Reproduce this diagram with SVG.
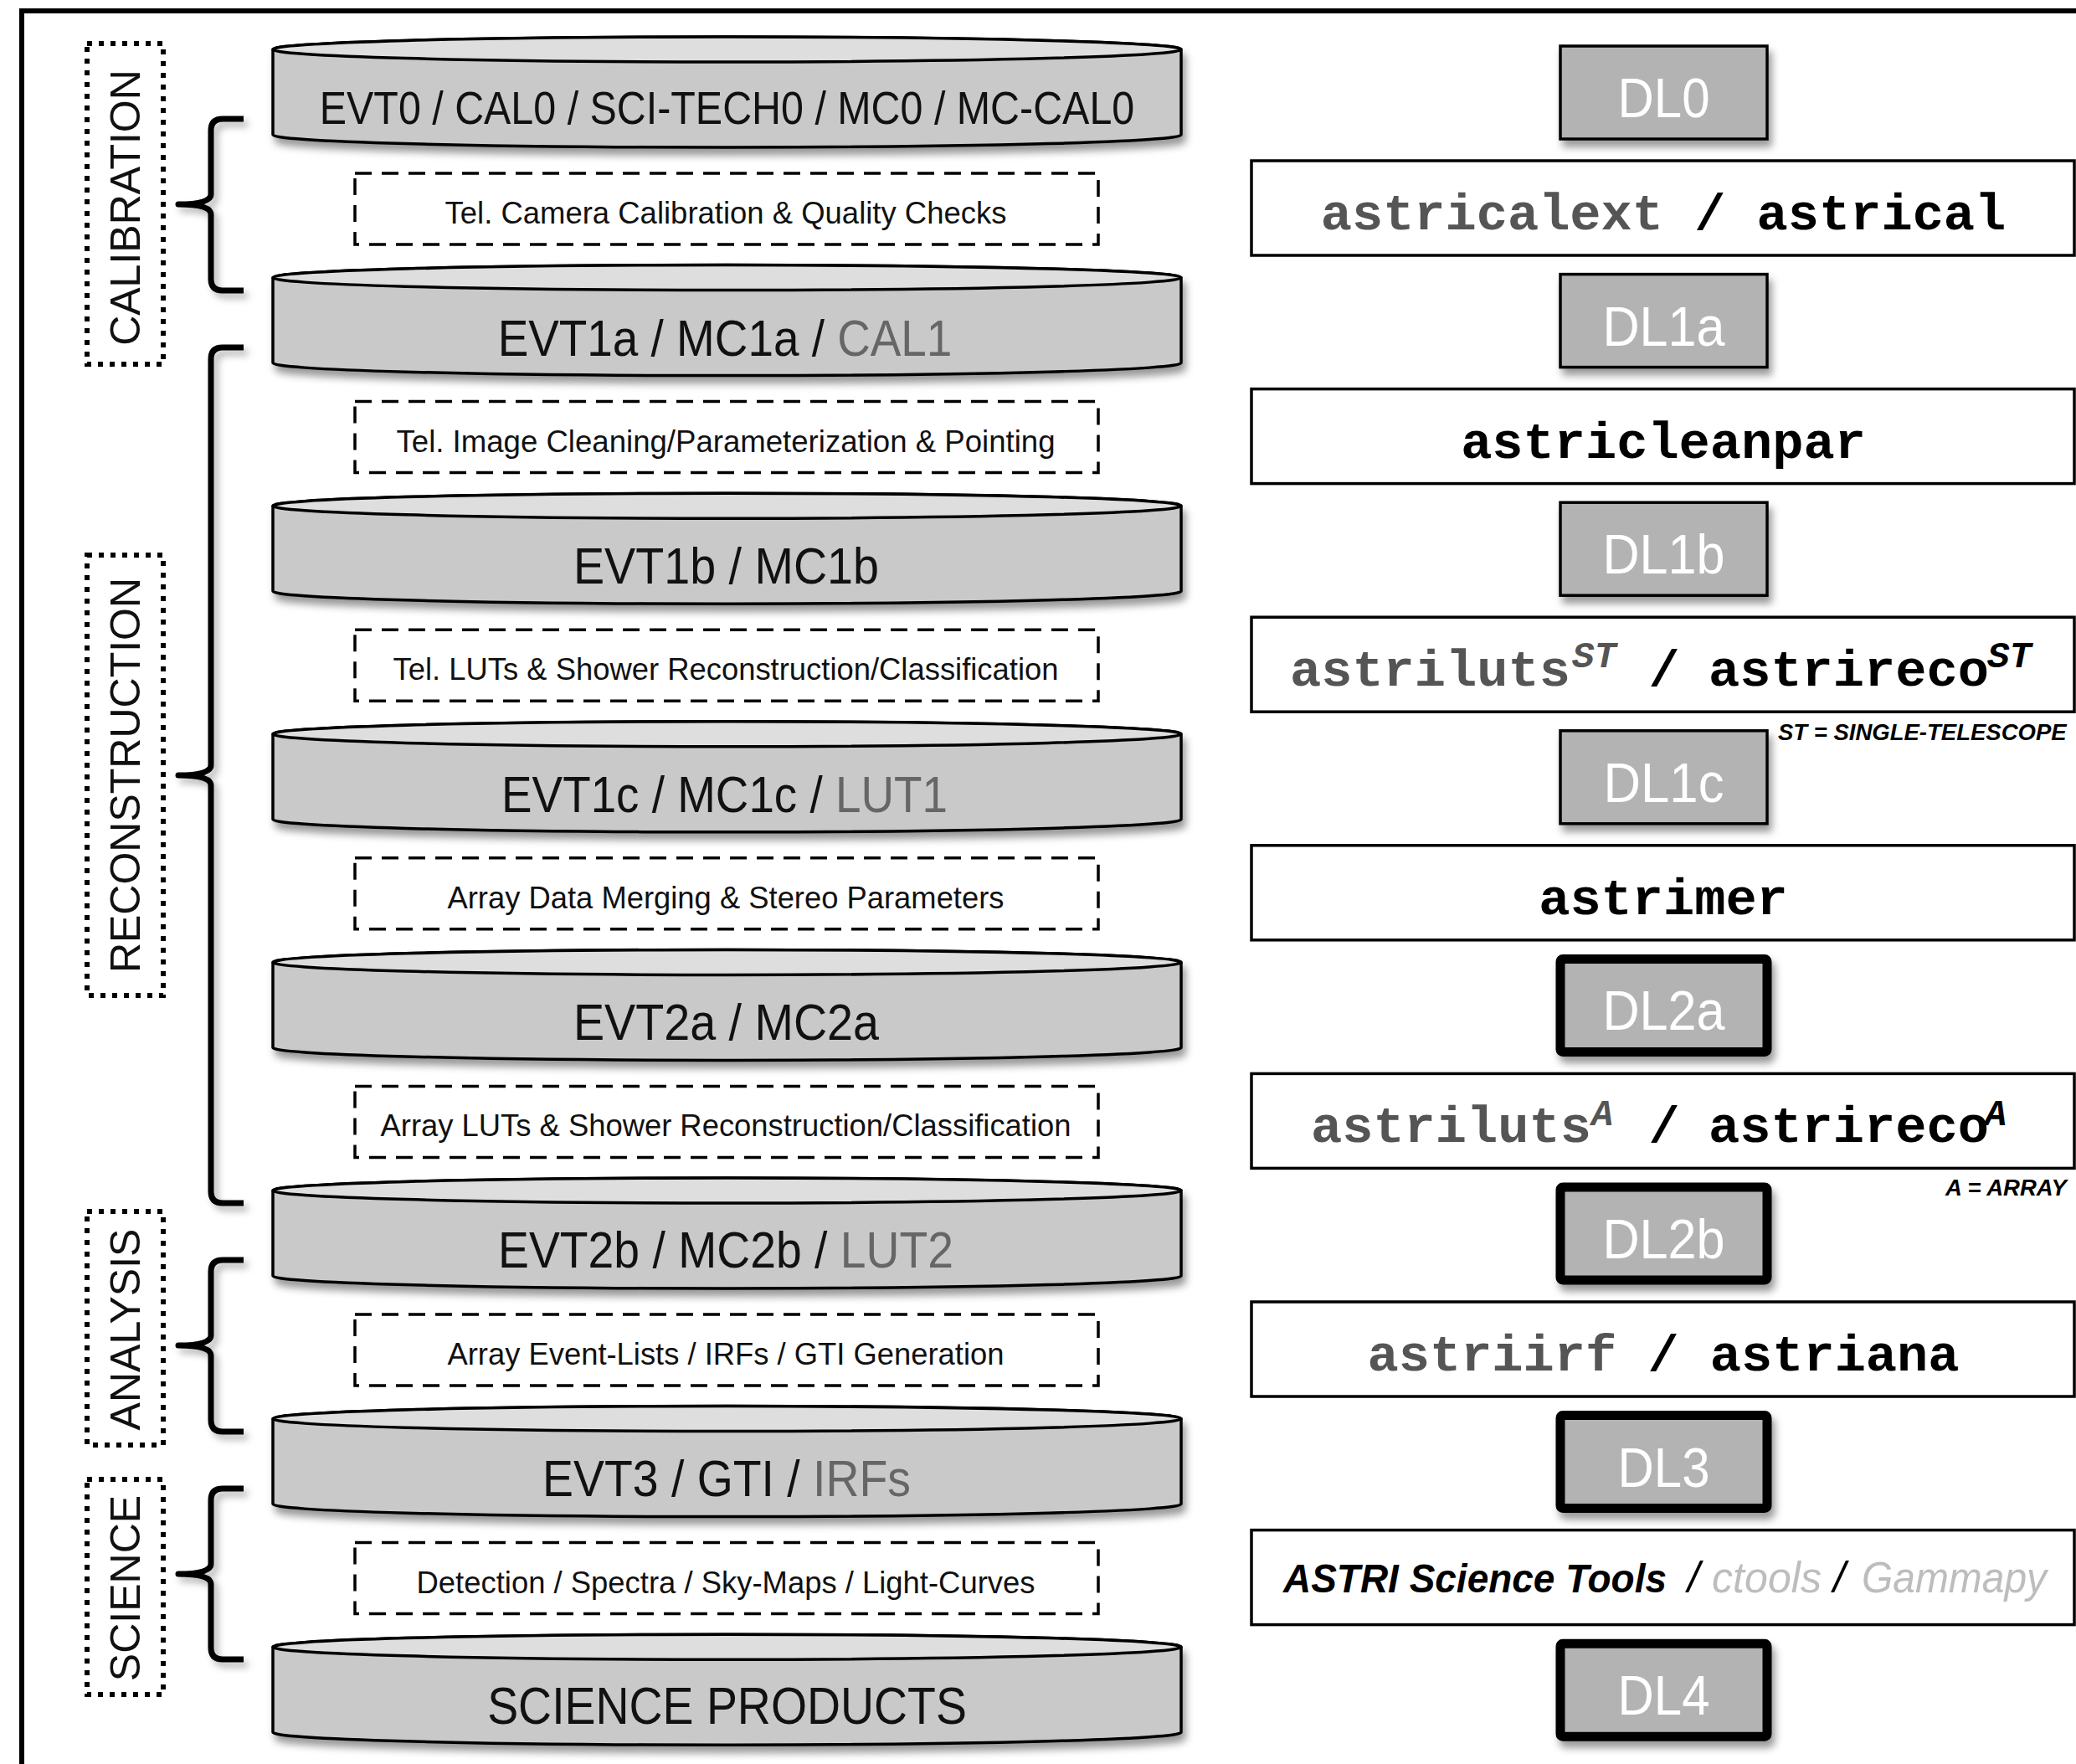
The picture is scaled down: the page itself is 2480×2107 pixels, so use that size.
<svg xmlns="http://www.w3.org/2000/svg" width="2480" height="2107" viewBox="0 0 2480 2107">
  <defs>
    <filter id="shadow" x="-10%" y="-30%" width="120%" height="170%">
      <feDropShadow dx="4" dy="8" stdDeviation="5" flood-color="#000" flood-opacity="0.4"/>
    </filter>
    <filter id="shadowSmall" x="-50%" y="-10%" width="200%" height="120%">
      <feDropShadow dx="5" dy="6" stdDeviation="4" flood-color="#000" flood-opacity="0.3"/>
    </filter>
  </defs>
  <style>
    .frame { fill: none; stroke: #000; stroke-width: 6; }
    .cyl-body { fill: #c9c9c9; stroke: #000; stroke-width: 3.5; }
    .cyl-top { fill: #dedede; stroke: #000; stroke-width: 3.5; }
    .cyl-t { font-family: "Liberation Sans", Arial, sans-serif; font-size: 62px; fill: #111; text-anchor: middle; }
    .dim { fill: #666; }
    .proc { fill: #fff; stroke: #000; stroke-width: 3.5; stroke-dasharray: 20 12; }
    .proc-t { font-family: "Liberation Sans", Arial, sans-serif; font-size: 37px; fill: #111; text-anchor: middle; }
    .phase { fill: none; stroke: #000; stroke-width: 6; stroke-dasharray: 6 8; }
    .phase-t { font-family: "Liberation Sans", Arial, sans-serif; font-size: 50px; fill: #111; text-anchor: middle; }
    .brace { fill: none; stroke: #000; stroke-width: 7; stroke-linejoin: round; stroke-linecap: butt; }
    .dl { fill: #b3b3b3; stroke: #000; stroke-width: 3.5; }
    .dl-thick { fill: #b3b3b3; stroke: #000; stroke-width: 11; }
    .dl-t { font-family: "Liberation Sans", Arial, sans-serif; font-size: 66px; fill: #fff; text-anchor: middle; }
    .tool { fill: #fff; stroke: #000; stroke-width: 3.5; }
    .mono { font-family: "Liberation Mono", "Courier New", monospace; font-weight: bold; font-size: 62px; fill: #000; }
    .mono-g { fill: #555; }
    .sup { font-family: "Liberation Mono", "Courier New", monospace; font-weight: bold; font-style: italic; font-size: 44px; }
    .note { font-family: "Liberation Sans", Arial, sans-serif; font-weight: bold; font-style: italic; font-size: 27.5px; fill: #000; }
    .sci { font-family: "Liberation Sans", Arial, sans-serif; font-style: italic; font-size: 52px; }
  </style>

  <rect width="2480" height="2107" fill="#fff"/>
  <!-- outer frame (open at right and bottom) -->
  <path class="frame" d="M26,2110 V13 H2485"/>

  <!-- phase labels -->
  <g id="phase-calibration">
    <rect class="phase" x="104" y="52" width="91" height="383"/>
    <text class="phase-t" transform="translate(167 248) rotate(-90)">CALIBRATION</text>
  </g>
  <g id="phase-reconstruction">
    <rect class="phase" x="104" y="663" width="91" height="526"/>
    <text class="phase-t" transform="translate(167 926) rotate(-90)">RECONSTRUCTION</text>
  </g>
  <g id="phase-analysis">
    <rect class="phase" x="104" y="1447" width="91" height="279"/>
    <text class="phase-t" transform="translate(167 1588) rotate(-90)">ANALYSIS</text>
  </g>
  <g id="phase-science">
    <rect class="phase" x="104" y="1767" width="91" height="257"/>
    <text class="phase-t" transform="translate(167 1897) rotate(-90)">SCIENCE</text>
  </g>

  <!-- braces grouping pipeline stages -->
  <g id="connectors" filter="url(#shadowSmall)">
    <path class="brace" d="M291,142 H266 Q252,142 252,156 V232 Q252,244 213,244 Q252,244 252,256 V333 Q252,347 266,347 H291"/>
    <path class="brace" d="M291,415 H266 Q252,415 252,429 V914 Q252,926 213,926 Q252,926 252,938 V1423 Q252,1437 266,1437 H291"/>
    <path class="brace" d="M291,1505 H266 Q252,1505 252,1519 V1595 Q252,1607 213,1607 Q252,1607 252,1619 V1696 Q252,1710 266,1710 H291"/>
    <path class="brace" d="M291,1778 H266 Q252,1778 252,1792 V1868 Q252,1880 213,1880 Q252,1880 252,1892 V1968 Q252,1982 266,1982 H291"/>
  </g>

  <!-- data level cylinders -->
  <g id="cyl-evt0">
    <path class="cyl-body" filter="url(#shadow)" d="M326,59 V161 A542.5,15 0 0 0 1411,161 V59 A542.5,15 0 0 0 326,59 Z"/>
    <ellipse class="cyl-top" cx="868.5" cy="59" rx="542.5" ry="15"/>
    <text class="cyl-t" style="font-size:55px" transform="translate(868.5 148) scale(0.88 1)">EVT0 / CAL0 / SCI-TECH0 / MC0 / MC-CAL0</text>
  </g>
  <g id="cyl-evt1a">
    <path class="cyl-body" filter="url(#shadow)" d="M326,331.6 V433.6 A542.5,15 0 0 0 1411,433.6 V331.6 A542.5,15 0 0 0 326,331.6 Z"/>
    <ellipse class="cyl-top" cx="868.5" cy="331.6" rx="542.5" ry="15"/>
    <text class="cyl-t" transform="translate(866 425) scale(0.885 1)">EVT1a / MC1a / <tspan class="dim">CAL1</tspan></text>
  </g>
  <g id="cyl-evt1b">
    <path class="cyl-body" filter="url(#shadow)" d="M326,604.2 V706.2 A542.5,15 0 0 0 1411,706.2 V604.2 A542.5,15 0 0 0 326,604.2 Z"/>
    <ellipse class="cyl-top" cx="868.5" cy="604.2" rx="542.5" ry="15"/>
    <text class="cyl-t" transform="translate(867.5 697) scale(0.898 1)">EVT1b / MC1b</text>
  </g>
  <g id="cyl-evt1c">
    <path class="cyl-body" filter="url(#shadow)" d="M326,876.8 V978.8 A542.5,15 0 0 0 1411,978.8 V876.8 A542.5,15 0 0 0 326,876.8 Z"/>
    <ellipse class="cyl-top" cx="868.5" cy="876.8" rx="542.5" ry="15"/>
    <text class="cyl-t" transform="translate(865.5 970) scale(0.884 1)">EVT1c / MC1c / <tspan class="dim">LUT1</tspan></text>
  </g>
  <g id="cyl-evt2a">
    <path class="cyl-body" filter="url(#shadow)" d="M326,1149.4 V1251.4 A542.5,15 0 0 0 1411,1251.4 V1149.4 A542.5,15 0 0 0 326,1149.4 Z"/>
    <ellipse class="cyl-top" cx="868.5" cy="1149.4" rx="542.5" ry="15"/>
    <text class="cyl-t" transform="translate(867.5 1242) scale(0.898 1)">EVT2a / MC2a</text>
  </g>
  <g id="cyl-evt2b">
    <path class="cyl-body" filter="url(#shadow)" d="M326,1422 V1524 A542.5,15 0 0 0 1411,1524 V1422 A542.5,15 0 0 0 326,1422 Z"/>
    <ellipse class="cyl-top" cx="868.5" cy="1422" rx="542.5" ry="15"/>
    <text class="cyl-t" transform="translate(867 1514) scale(0.892 1)">EVT2b / MC2b / <tspan class="dim">LUT2</tspan></text>
  </g>
  <g id="cyl-evt3">
    <path class="cyl-body" filter="url(#shadow)" d="M326,1694.6 V1796.6 A542.5,15 0 0 0 1411,1796.6 V1694.6 A542.5,15 0 0 0 326,1694.6 Z"/>
    <ellipse class="cyl-top" cx="868.5" cy="1694.6" rx="542.5" ry="15"/>
    <text class="cyl-t" transform="translate(868 1787) scale(0.893 1)">EVT3 / GTI / <tspan class="dim">IRFs</tspan></text>
  </g>
  <g id="cyl-science">
    <path class="cyl-body" filter="url(#shadow)" d="M326,1967.2 V2069.2 A542.5,15 0 0 0 1411,2069.2 V1967.2 A542.5,15 0 0 0 326,1967.2 Z"/>
    <ellipse class="cyl-top" cx="868.5" cy="1967.2" rx="542.5" ry="15"/>
    <text class="cyl-t" transform="translate(868.5 2059) scale(0.894 1)">SCIENCE PRODUCTS</text>
  </g>

  <!-- processing steps -->
  <g id="proc-calib">
    <rect class="proc" x="424" y="207" width="888" height="85"/>
    <text class="proc-t" x="867" y="267" textLength="671" lengthAdjust="spacingAndGlyphs">Tel. Camera Calibration &amp; Quality Checks</text>
  </g>
  <g id="proc-clean">
    <rect class="proc" x="424" y="479.6" width="888" height="85"/>
    <text class="proc-t" x="867" y="539.6" textLength="787" lengthAdjust="spacingAndGlyphs">Tel. Image Cleaning/Parameterization &amp; Pointing</text>
  </g>
  <g id="proc-tel-reco">
    <rect class="proc" x="424" y="752.2" width="888" height="85"/>
    <text class="proc-t" x="867" y="812.2" textLength="795" lengthAdjust="spacingAndGlyphs">Tel. LUTs &amp; Shower Reconstruction/Classification</text>
  </g>
  <g id="proc-merge">
    <rect class="proc" x="424" y="1024.8" width="888" height="85"/>
    <text class="proc-t" x="867" y="1084.8" textLength="665" lengthAdjust="spacingAndGlyphs">Array Data Merging &amp; Stereo Parameters</text>
  </g>
  <g id="proc-array-reco">
    <rect class="proc" x="424" y="1297.4" width="888" height="85"/>
    <text class="proc-t" x="867" y="1357.4" textLength="825" lengthAdjust="spacingAndGlyphs">Array LUTs &amp; Shower Reconstruction/Classification</text>
  </g>
  <g id="proc-irf">
    <rect class="proc" x="424" y="1570" width="888" height="85"/>
    <text class="proc-t" x="867" y="1630" textLength="665" lengthAdjust="spacingAndGlyphs">Array Event-Lists / IRFs / GTI Generation</text>
  </g>
  <g id="proc-science">
    <rect class="proc" x="424" y="1842.6" width="888" height="85"/>
    <text class="proc-t" x="867" y="1902.6" textLength="739" lengthAdjust="spacingAndGlyphs">Detection / Spectra / Sky-Maps / Light-Curves</text>
  </g>

  <!-- data level boxes -->
  <g id="dl0">
    <rect class="dl" filter="url(#shadow)" x="1864" y="55" width="247" height="111"/>
    <text class="dl-t" x="1987.5" y="140" textLength="110" lengthAdjust="spacingAndGlyphs">DL0</text>
  </g>
  <g id="dl1a">
    <rect class="dl" filter="url(#shadow)" x="1864" y="327.6" width="247" height="111"/>
    <text class="dl-t" x="1987.5" y="412.6" textLength="146" lengthAdjust="spacingAndGlyphs">DL1a</text>
  </g>
  <g id="dl1b">
    <rect class="dl" filter="url(#shadow)" x="1864" y="600.2" width="247" height="111"/>
    <text class="dl-t" x="1987.5" y="685.2" textLength="146" lengthAdjust="spacingAndGlyphs">DL1b</text>
  </g>
  <g id="dl1c">
    <rect class="dl" filter="url(#shadow)" x="1864" y="872.8" width="247" height="111"/>
    <text class="dl-t" x="1987.5" y="957.8" textLength="144" lengthAdjust="spacingAndGlyphs">DL1c</text>
  </g>
  <g id="dl2a">
    <rect class="dl-thick" filter="url(#shadow)" x="1864" y="1145.4" width="247" height="111" rx="3"/>
    <text class="dl-t" x="1987.5" y="1230.4" textLength="146" lengthAdjust="spacingAndGlyphs">DL2a</text>
  </g>
  <g id="dl2b">
    <rect class="dl-thick" filter="url(#shadow)" x="1864" y="1418" width="247" height="111" rx="3"/>
    <text class="dl-t" x="1987.5" y="1503" textLength="146" lengthAdjust="spacingAndGlyphs">DL2b</text>
  </g>
  <g id="dl3">
    <rect class="dl-thick" filter="url(#shadow)" x="1864" y="1690.6" width="247" height="111" rx="3"/>
    <text class="dl-t" x="1987.5" y="1775.6" textLength="110" lengthAdjust="spacingAndGlyphs">DL3</text>
  </g>
  <g id="dl4">
    <rect class="dl-thick" filter="url(#shadow)" x="1864" y="1963.2" width="247" height="111" rx="3"/>
    <text class="dl-t" x="1987.5" y="2048.2" textLength="110" lengthAdjust="spacingAndGlyphs">DL4</text>
  </g>

  <!-- software tools -->
  <g id="tool-astrical">
    <rect class="tool" x="1495" y="192" width="983" height="113"/>
    <text class="mono" x="1987" y="274" text-anchor="middle"><tspan class="mono-g">astricalext</tspan> / astrical</text>
  </g>
  <g id="tool-astricleanpar">
    <rect class="tool" x="1495" y="464.6" width="983" height="113"/>
    <text class="mono" x="1987" y="546.6" text-anchor="middle">astricleanpar</text>
  </g>
  <g id="tool-astrireco-st">
    <rect class="tool" x="1495" y="737.2" width="983" height="113"/>
    <text class="mono mono-g" x="1541" y="819.2">astriluts</text>
    <text class="sup" fill="#555" x="1878" y="797">ST</text>
    <text class="mono" x="1988" y="819.2" text-anchor="middle">/</text>
    <text class="mono" x="2041" y="819.2">astrireco</text>
    <text class="sup" fill="#000" x="2374" y="797">ST</text>
    <text class="note" x="2124" y="884">ST = SINGLE-TELESCOPE</text>
  </g>
  <g id="tool-astrimer">
    <rect class="tool" x="1495" y="1009.8" width="983" height="113"/>
    <text class="mono" x="1987" y="1091.8" text-anchor="middle">astrimer</text>
  </g>
  <g id="tool-astrireco-a">
    <rect class="tool" x="1495" y="1282.4" width="983" height="113"/>
    <text class="mono mono-g" x="1566" y="1364.4">astriluts</text>
    <text class="sup" fill="#555" x="1901" y="1344">A</text>
    <text class="mono" x="1988" y="1364.4" text-anchor="middle">/</text>
    <text class="mono" x="2041" y="1364.4">astrireco</text>
    <text class="sup" fill="#000" x="2371" y="1344">A</text>
    <text class="note" x="2324" y="1428">A = ARRAY</text>
  </g>
  <g id="tool-astriana">
    <rect class="tool" x="1495" y="1555" width="983" height="113"/>
    <text class="mono" x="1987" y="1637" text-anchor="middle"><tspan class="mono-g">astriirf</tspan> / astriana</text>
  </g>
  <g id="tool-science">
    <rect class="tool" x="1495" y="1827.6" width="983" height="113"/>
    <text class="sci" x="1533" y="1902" font-weight="bold" fill="#000" style="font-size:48px" textLength="458" lengthAdjust="spacingAndGlyphs">ASTRI Science Tools</text>
    <text class="sci" x="2016" y="1902" fill="#000">/</text>
    <text class="sci" x="2045" y="1902" fill="#bdbdbd" textLength="131" lengthAdjust="spacingAndGlyphs">ctools</text>
    <text class="sci" x="2190" y="1902" fill="#000">/</text>
    <text class="sci" x="2224" y="1902" fill="#bdbdbd" textLength="221" lengthAdjust="spacingAndGlyphs">Gammapy</text>
  </g>
</svg>
